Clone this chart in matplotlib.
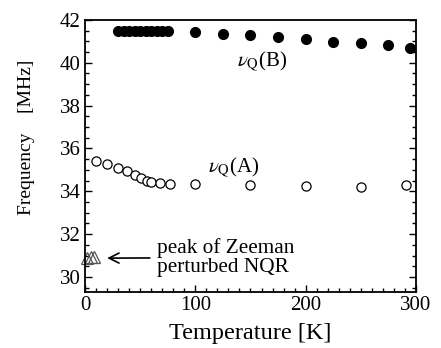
import numpy as np
import matplotlib.pyplot as plt
from matplotlib.ticker import MultipleLocator

plt.rcParams['font.family'] = ['Liberation Serif', 'DejaVu Serif']
plt.rcParams['mathtext.fontset'] = 'stix'

# nu_Q(B): filled circles
temp_b = [30, 35, 40, 45, 50, 55, 60, 65, 70, 75, 100, 125, 150, 175, 200, 225, 250, 275, 295]
freq_b = [41.5, 41.5, 41.5, 41.5, 41.5, 41.5, 41.5, 41.5, 41.5, 41.48,
          41.42, 41.35, 41.3, 41.2, 41.1, 40.95, 40.9, 40.83, 40.7]

# nu_Q(A): open circles
temp_a = [10, 20, 30, 38, 45, 51, 56, 60, 68, 77, 100, 150, 200, 250, 291]
freq_a = [35.4, 35.25, 35.1, 34.93, 34.75, 34.6, 34.5, 34.42, 34.38, 34.36,
          34.32, 34.3, 34.25, 34.22, 34.28]

# Zeeman perturbed NQR peaks: open triangles
temp_z = [1.5, 5, 8]
freq_z = [30.88, 30.95, 30.92]

fig = plt.figure(figsize=(4.41, 3.48), dpi=100)
ax = fig.add_axes([0.193, 0.161, 0.750, 0.782])

ax.plot(temp_b, freq_b, 'o', color='black', markersize=7, linestyle='none')
ax.plot(temp_a, freq_a, 'o', markerfacecolor='white', markeredgecolor='black',
        markeredgewidth=0.9, markersize=6.6, linestyle='none')
ax.plot(temp_z, freq_z, '^', markerfacecolor='none', markeredgecolor='#555555',
        markeredgewidth=0.9, markersize=9, linestyle='none', clip_on=False)

ax.text(138, 40.05, r'$\nu_{\mathrm{Q}}$(B)', fontsize=15, va='center', ha='left')
ax.text(111.5, 35.1, r'$\nu_{\mathrm{Q}}$(A)', fontsize=15, va='center', ha='left')

ax.annotate('peak of Zeeman\nperturbed NQR', xy=(20, 30.88), xytext=(65, 30.9),
            fontsize=15.3, va='center', ha='left', linespacing=0.95,
            arrowprops=dict(arrowstyle='->', color='black', lw=1.2,
                            mutation_scale=18, shrinkA=3, shrinkB=0))

ax.set_xlim(0, 300)
ax.set_ylim(29.3, 42)
ax.xaxis.set_major_locator(MultipleLocator(100))
ax.xaxis.set_minor_locator(MultipleLocator(10))
ax.yaxis.set_major_locator(MultipleLocator(2))
ax.yaxis.set_minor_locator(MultipleLocator(0.5))
ax.tick_params(which='both', direction='in', right=True, top=False,
               labelsize=15, width=1.0, pad=3)
ax.tick_params(which='major', length=5)
ax.tick_params(which='minor', length=3)
for s in ax.spines.values():
    s.set_linewidth(1.3)

ax.set_xlabel('Temperature [K]', fontsize=17.5, labelpad=6)
ax.set_ylabel('Frequency    [MHz]', fontsize=14)
ax.yaxis.set_label_coords(-0.151, 0.57)

fig.savefig('out.png', dpi=100)
